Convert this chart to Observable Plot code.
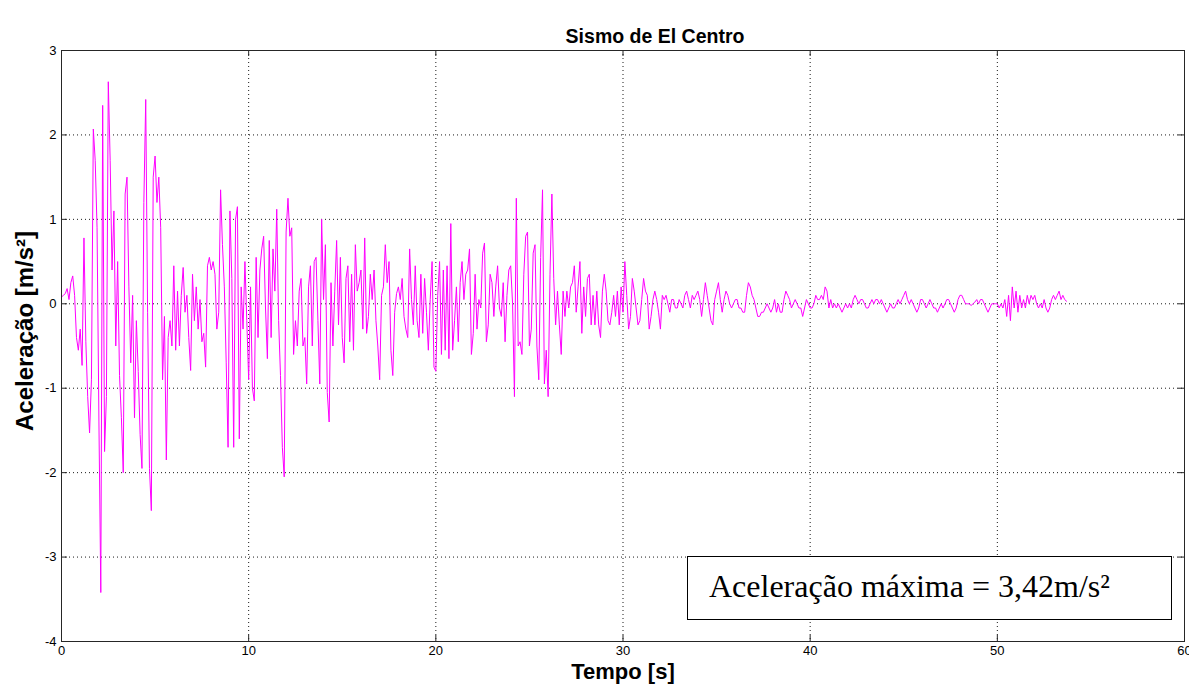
<!DOCTYPE html>
<html>
<head>
<meta charset="utf-8">
<script src="https://cdn.jsdelivr.net/npm/d3@7"></script>
<script src="https://cdn.jsdelivr.net/npm/@observablehq/plot@0.6"></script>
<style>
  html, body { margin: 0; padding: 0; background: #fff; }
  #wrap { position: relative; width: 1189px; height: 688px; }
  #note {
    position: absolute; left: 687px; top: 556px; width: 485px; height: 64px;
    box-sizing: border-box; border: 1.5px solid #000; background: #fff;
    font-family: "Liberation Serif", "Times New Roman", serif; font-size: 32px;
    display: flex; align-items: center; padding-left: 21px; padding-bottom: 4px; color: #000;
  }
</style>
</head>
<body>
<div id="wrap"></div>
<script>
// Sampling step of the read-off record (s)
const dt = 0.1;

// Ground acceleration (m/s²), 0.1 s apart
const seg00_05 = [0.08,0.1,0.12,0.18,0.05,0.25,0.33,0.1,-0.4,-0.55,
  -0.3,-0.73,0.78,-0.45,-1.1,-1.53,-0.9,2.07,1.7,0.9,
  -1.4,-3.42,2.35,-1.75,-1.1,2.63,1.7,0.4,1.1,-0.5,
  0.5,-0.85,-1.35,-2.0,1.3,1.5,0.2,-0.7,0.1,-1.35,
  -0.2,-0.8,-1.55,-1.95,1.2,2.42,-0.1,-1.95,-2.45,1.5];
const seg05_10 = [1.75,1.2,1.5,0.9,-0.9,-0.15,-1.85,-0.4,-0.2,-0.5,
  0.45,-0.55,0.15,-0.5,0.1,0.43,-0.1,0.1,-0.4,-0.79,
  0.35,-0.2,0.2,-0.3,0.05,-0.45,-0.35,-0.75,0.45,0.55,
  0.4,0.5,0.35,-0.3,-0.1,1.35,0.7,0.2,-0.7,-1.7,
  1.1,0.3,-1.7,1.0,1.15,-1.6,0.2,-0.3,0.5,-0.2];
const seg10_15 = [-0.9,0.2,-1.0,-1.15,0.55,-0.4,0.4,0.65,0.8,-0.05,
  -0.65,0.75,-0.4,0.65,0.15,1.12,-0.2,-0.85,-1.7,-2.05,
  0.85,1.25,0.8,0.9,-0.6,-0.2,-0.5,0.15,0.3,-0.5,
  -0.4,-0.95,0.2,0.45,-0.5,0.5,0.55,-0.2,-0.95,1.0,
  0.05,0.7,-1.05,-1.4,0.25,-0.5,0.15,0.75,-0.25,0.55];
const seg15_20 = [-0.4,-0.7,0.3,0.45,-0.45,0.35,-0.55,0.7,0.15,0.25,
  0.4,-0.3,0.78,-0.35,-0.15,0.35,0.05,0.4,-0.2,-0.5,
  -0.9,0.1,0.2,0.7,0.25,0.5,-0.55,-0.85,-0.1,0.12,
  0.2,0.05,0.3,-0.15,-0.3,-0.4,0.65,0.05,-0.25,0.45,
  -0.2,-0.4,0.35,-0.35,0.3,-0.1,-0.55,0.05,0.5,-0.75];
const seg20_25 = [-0.8,0.1,0.5,-0.6,0.4,-0.55,0.45,-0.65,0.95,-0.55,
  -0.2,0.2,-0.45,0.25,0.5,0.05,0.35,0.4,0.65,-0.6,
  -0.35,0.35,-0.3,0.05,-0.05,0.6,0.72,-0.45,-0.25,0.35,
  0.25,-0.15,0.2,0.45,-0.05,-0.15,0.25,-0.45,0.1,0.4,
  0.45,0.0,-1.1,1.25,-0.5,-0.45,-0.6,0.35,0.8,0.85];
const seg25_30 = [-0.5,-0.3,0.6,0.7,-0.5,-0.9,0.55,1.35,-0.95,-0.55,
  -1.1,0.35,1.3,0.3,-0.25,0.15,-0.25,-0.6,0.15,-0.15,
  0.15,-0.05,0.2,0.25,0.45,-0.1,0.2,0.5,-0.35,0.2,
  -0.15,0.3,0.35,-0.25,0.1,-0.25,0.15,-0.25,-0.4,0.15,
  0.35,0.15,-0.2,-0.25,-0.1,0.1,-0.15,0.15,-0.25,0.2];
const seg30_35 = [-0.1,0.5,0.1,-0.3,-0.15,0.3,0.15,-0.05,-0.25,-0.2,
  0.05,0.3,0.15,0.1,-0.3,-0.15,0.05,0.15,0.05,-0.1,
  -0.3,0.1,0.05,0.1,0.0,-0.1,0.05,0.05,-0.05,-0.05,
  0.05,0.0,-0.05,0.1,0.15,0.05,-0.05,0.1,0.05,0.1,
  0.15,0.05,-0.15,0.05,0.25,0.1,-0.05,-0.2,-0.25,0.05];
const seg35_40 = [0.15,0.25,0.05,-0.1,0.05,0.15,0.1,0.0,-0.05,0.0,
  0.05,0.05,-0.05,-0.05,-0.1,-0.1,0.1,0.25,0.2,0.1,
  0.05,-0.05,-0.15,-0.15,-0.1,-0.1,-0.05,0.0,-0.05,-0.1,
  -0.05,0.05,-0.1,0.0,-0.1,-0.1,0.05,0.15,0.1,0.05,
  -0.05,0.0,0.05,0.0,-0.05,-0.05,-0.15,-0.05,0.05,0.0];
const seg40_45 = [-0.05,-0.05,0.0,0.1,0.05,0.05,0.1,0.05,0.2,0.15,
  -0.05,0.05,-0.05,0.0,-0.05,0.0,-0.05,-0.1,-0.05,0.0,
  -0.05,0.0,-0.05,0.05,0.1,0.05,0.0,0.05,0.05,0.0,
  -0.05,-0.05,0.0,0.05,0.0,0.05,0.05,0.0,0.05,0.0,
  -0.05,-0.1,-0.05,0.0,-0.05,-0.05,0.0,0.05,0.0,0.05];
const seg45_50 = [0.1,0.15,0.05,0.0,0.05,0.0,-0.05,-0.1,-0.05,0.05,
  0.05,0.0,-0.05,0.0,0.05,0.0,-0.05,-0.05,-0.1,-0.05,
  0.0,-0.05,0.0,0.05,0.05,0.0,-0.05,-0.1,-0.05,0.05,
  0.1,0.1,0.05,0.0,0.0,0.0,-0.02,0.0,0.02,0.05,
  0.0,0.05,0.05,0.0,-0.05,-0.1,-0.05,0.0,0.0,0.0];
const seg50_54 = [0.0,-0.05,0.0,-0.05,0.05,-0.15,0.1,-0.2,0.2,-0.05,
  0.15,-0.1,0.1,-0.05,0.05,-0.05,0.1,0.0,0.1,0.05,
  0.1,0.0,-0.05,0.0,-0.05,0.05,-0.05,-0.1,-0.05,0.05,
  0.1,0.05,0.1,0.15,0.05,0.1,0.05,0.03];

// Axis ticks and texts
const xTicks = [0, 10, 20, 30, 40, 50, 60];
const yTicks = [-4, -3, -2, -1, 0, 1, 2, 3];
const titleText = ["Sismo de El Centro"];
const xLabel = ["Tempo [s]"];
const yLabel = ["Aceleração [m/s²]"];
const noteText = "Aceleração máxima = 3,42m/s²";

const accel = [seg00_05, seg05_10, seg10_15, seg15_20, seg20_25, seg25_30,
  seg30_35, seg35_40, seg40_45, seg45_50, seg50_54].flat();
const data = accel.map((a, i) => ({t: Math.round(i * dt * 100) / 100, a}));

const W = 1189, H = 688, mL = 61, mR = 5, mT = 50, mB = 47;
const fw = W - mL - mR, fh = H - mT - mB;
const tickLen = 6;
const axisColor = "#262626";

const chart = Plot.plot({
  width: W, height: H,
  marginLeft: mL, marginRight: mR, marginTop: mT, marginBottom: mB,
  style: {fontFamily: "'Liberation Sans', Arial, sans-serif", fontSize: "13px", color: "#000", background: "#fff", overflow: "visible"},
  x: {domain: [0, 60]},
  y: {domain: [-4, 3]},
  marks: [
    Plot.gridX(xTicks, {stroke: "#000", strokeOpacity: 0.9, strokeDasharray: "1,3"}),
    Plot.gridY(yTicks, {stroke: "#000", strokeOpacity: 0.9, strokeDasharray: "1,3"}),
    Plot.line(data, {x: "t", y: "a", stroke: "#ff00ff", strokeWidth: 1}),
    Plot.ruleX(xTicks, {stroke: axisColor, insetTop: fh - tickLen}),
    Plot.ruleX(xTicks, {stroke: axisColor, insetBottom: fh - tickLen}),
    Plot.ruleY(yTicks, {stroke: axisColor, insetRight: fw - tickLen}),
    Plot.ruleY(yTicks, {stroke: axisColor, insetLeft: fw - tickLen}),
    Plot.frame({stroke: axisColor}),
    Plot.axisX(xTicks, {tickSize: 0, tickPadding: 4, label: null, fontSize: 13, tickFormat: d => String(d)}),
    Plot.axisY(yTicks, {tickSize: 0, tickPadding: 5, label: null, fontSize: 13, tickFormat: d => String(d)}),
    Plot.text(titleText, {frameAnchor: "top", dx: 32, dy: -21, fontWeight: "bold", fontSize: 19.5}),
    Plot.text(xLabel, {frameAnchor: "bottom", dy: 37, fontWeight: "bold", fontSize: 22}),
    Plot.text(yLabel, {frameAnchor: "left", textAnchor: "middle", dx: -36, dy: -15, rotate: -90, fontWeight: "bold", fontSize: 24})
  ]
});

const wrap = document.getElementById("wrap");
wrap.appendChild(chart);
const note = document.createElement("div");
note.id = "note";
note.textContent = noteText;
wrap.appendChild(note);
</script>
</body>
</html>
